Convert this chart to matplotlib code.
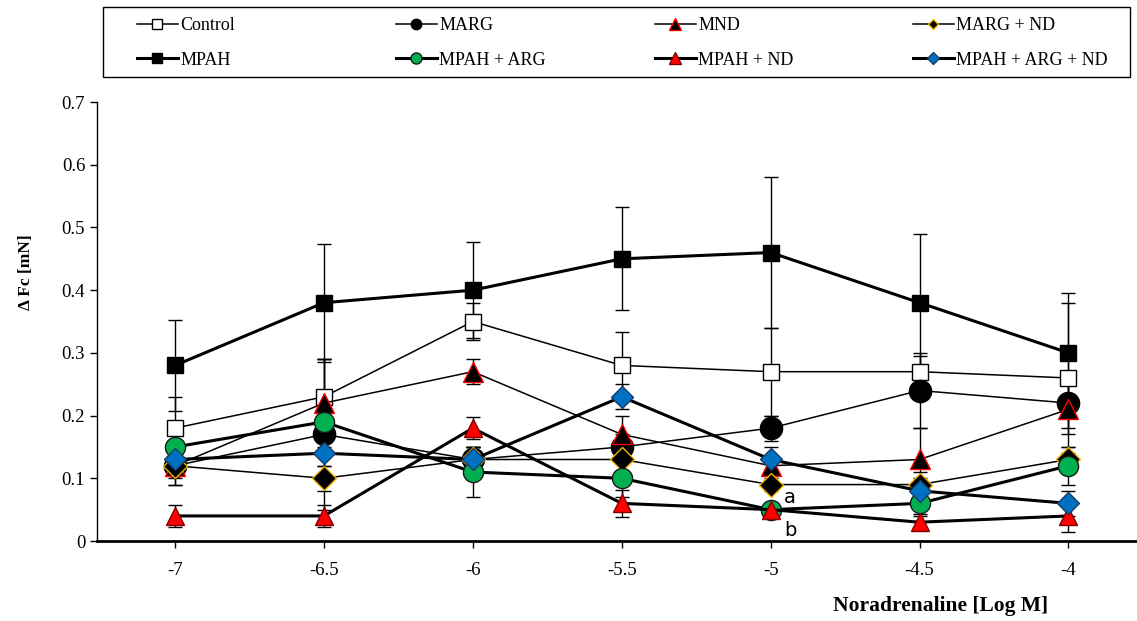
import numpy as np
import matplotlib
matplotlib.use("Agg")
import matplotlib.pyplot as plt
from matplotlib.lines import Line2D
from matplotlib.patches import Rectangle

plt.rcParams['font.family'] = ['Liberation Serif', 'DejaVu Serif']

# noradrenaline concentration, log M
conc = [-7, -6.5, -6, -5.5, -5, -4.5, -4]

control = [0.18, 0.23, 0.35, 0.28, 0.27, 0.27, 0.26]
marg = [0.12, 0.17, 0.13, 0.15, 0.18, 0.24, 0.22]
mnd = [0.12, 0.22, 0.27, 0.17, 0.12, 0.13, 0.21]
marg_nd = [0.12, 0.10, 0.13, 0.13, 0.09, 0.09, 0.13]
mpah = [0.28, 0.38, 0.40, 0.45, 0.46, 0.38, 0.30]
mpah_arg = [0.15, 0.19, 0.11, 0.10, 0.05, 0.06, 0.12]
mpah_nd = [0.04, 0.04, 0.18, 0.06, 0.05, 0.03, 0.04]
mpah_arg_nd = [0.13, 0.14, 0.13, 0.23, 0.13, 0.08, 0.06]

# SEM (rough reading of the caps)
err_control = [0.05, 0.06, 0.03, 0.053, 0.07, 0.025, 0.12]
err_marg = [0.03, 0.12, 0.02, 0.02, 0.02, 0.06, 0.04]
err_mnd = [0.03, 0.07, 0.02, 0.03, 0.01, 0.05, 0.04]
err_marg_nd = [0.02, 0.02, 0.02, 0.02, 0.01, 0.02, 0.02]
err_mpah = [0.072, 0.094, 0.077, 0.082, 0.12, 0.11, 0.095]
err_mpah_arg = [0.03, 0.03, 0.04, 0.03, 0.01, 0.02, 0.03]
err_mpah_nd = [0.018, 0.018, 0.017, 0.022, 0.01, 0.013, 0.025]
err_mpah_arg_nd = [0.02, 0.02, 0.02, 0.02, 0.02, 0.02, 0.02]

series = [
    ("Control", control, err_control, dict(marker='s', mfc='white', mec='black', ms=11.5, lw=1.1, lms=7)),
    ("MARG", marg, err_marg, dict(marker='o', mfc='black', mec='black', ms=16, lw=1.1, lms=7.5)),
    ("MND", mnd, err_mnd, dict(marker='^', mfc='black', mec='red', ms=14, lw=1.1, lms=8)),
    ("MARG + ND", marg_nd, err_marg_nd, dict(marker='D', mfc='black', mec='#f0b400', ms=12.5, lw=1.1, lms=5.5)),
    ("MPAH", mpah, err_mpah, dict(marker='s', mfc='black', mec='black', ms=12, lw=2.2, lms=7.5)),
    ("MPAH + ARG", mpah_arg, err_mpah_arg, dict(marker='o', mfc='#00b050', mec='#1a1a1a', ms=14.5, lw=2.2, lms=8)),
    ("MPAH + ND", mpah_nd, err_mpah_nd, dict(marker='^', mfc='red', mec='#800000', ms=13.5, lw=2.2, lms=8)),
    ("MPAH + ARG + ND", mpah_arg_nd, err_mpah_arg_nd, dict(marker='D', mfc='#0070c0', mec='#1a3a6a', ms=11.5, lw=2.2, lms=6.5)),
]

fig = plt.figure(figsize=(11.37, 6.21), dpi=100)
ax = fig.add_axes([0.0853, 0.1288, 0.9147, 0.7069])

proxies = []
for i, (name, vals, err, st) in enumerate(series):
    ax.errorbar(conc, vals, yerr=err, fmt='none', ecolor='black', elinewidth=1.0,
                capsize=5, capthick=1.0, zorder=2 + i * 0.1)
    ax.plot(conc, vals, color='black', linewidth=st['lw'], marker=st['marker'],
            markerfacecolor=st['mfc'], markeredgecolor=st['mec'], markersize=st['ms'],
            markeredgewidth=1.0, zorder=3 + i * 0.1)
    proxies.append(Line2D([], [], color='black', linewidth=st['lw'], marker=st['marker'],
                          markerfacecolor=st['mfc'], markeredgecolor=st['mec'],
                          markersize=st['lms'], markeredgewidth=1.0, label=name))

ax.text(-4.955, 0.070, 'a', fontsize=14, family='DejaVu Sans', ha='left', va='center')
ax.text(-4.955, 0.017, 'b', fontsize=14, family='DejaVu Sans', ha='left', va='center')

ax.set_xlim(-7.262, -3.77)
ax.set_ylim(0, 0.7)
ax.set_xticks(conc)
ax.set_xticklabels(['-7', '-6.5', '-6', '-5.5', '-5', '-4.5', '-4'])
ax.set_yticks(np.arange(0, 0.71, 0.1))
ax.set_yticklabels(['0', '0.1', '0.2', '0.3', '0.4', '0.5', '0.6', '0.7'])
ax.tick_params(labelsize=13.5, direction='out', length=5, width=1)
ax.tick_params(axis='x', pad=10)
for side in ['top', 'right']:
    ax.spines[side].set_visible(False)
ax.spines['left'].set_linewidth(1.0)
ax.spines['bottom'].set_linewidth(2.0)

fig.text(26 / 1137, 1 - 272 / 621, 'Δ Fc [mN]', fontsize=12.5, fontweight='bold',
         rotation=90, ha='center', va='center')
fig.text(941 / 1137, 1 - 606 / 621, 'Noradrenaline [Log M]', fontsize=15.5, fontweight='bold',
         ha='center', va='center')

# legend: framed box with four columns of two entries each
fig.add_artist(Rectangle((103 / 1137, 1 - 77 / 621), 1027 / 1137, 70 / 621,
                         transform=fig.transFigure, fill=False, edgecolor='black',
                         linewidth=1.0))
col_x = [137, 396, 655, 913]
for c in range(4):
    lg = fig.legend([proxies[c], proxies[c + 4]], [proxies[c].get_label(), proxies[c + 4].get_label()],
                    loc='center left', bbox_to_anchor=(col_x[c] / 1137, 1 - 43 / 621),
                    frameon=False, fontsize=13, handlelength=2.25, handletextpad=0.15,
                    borderpad=0, borderaxespad=0, labelspacing=0.95)

fig.savefig('out.png', dpi=100)
